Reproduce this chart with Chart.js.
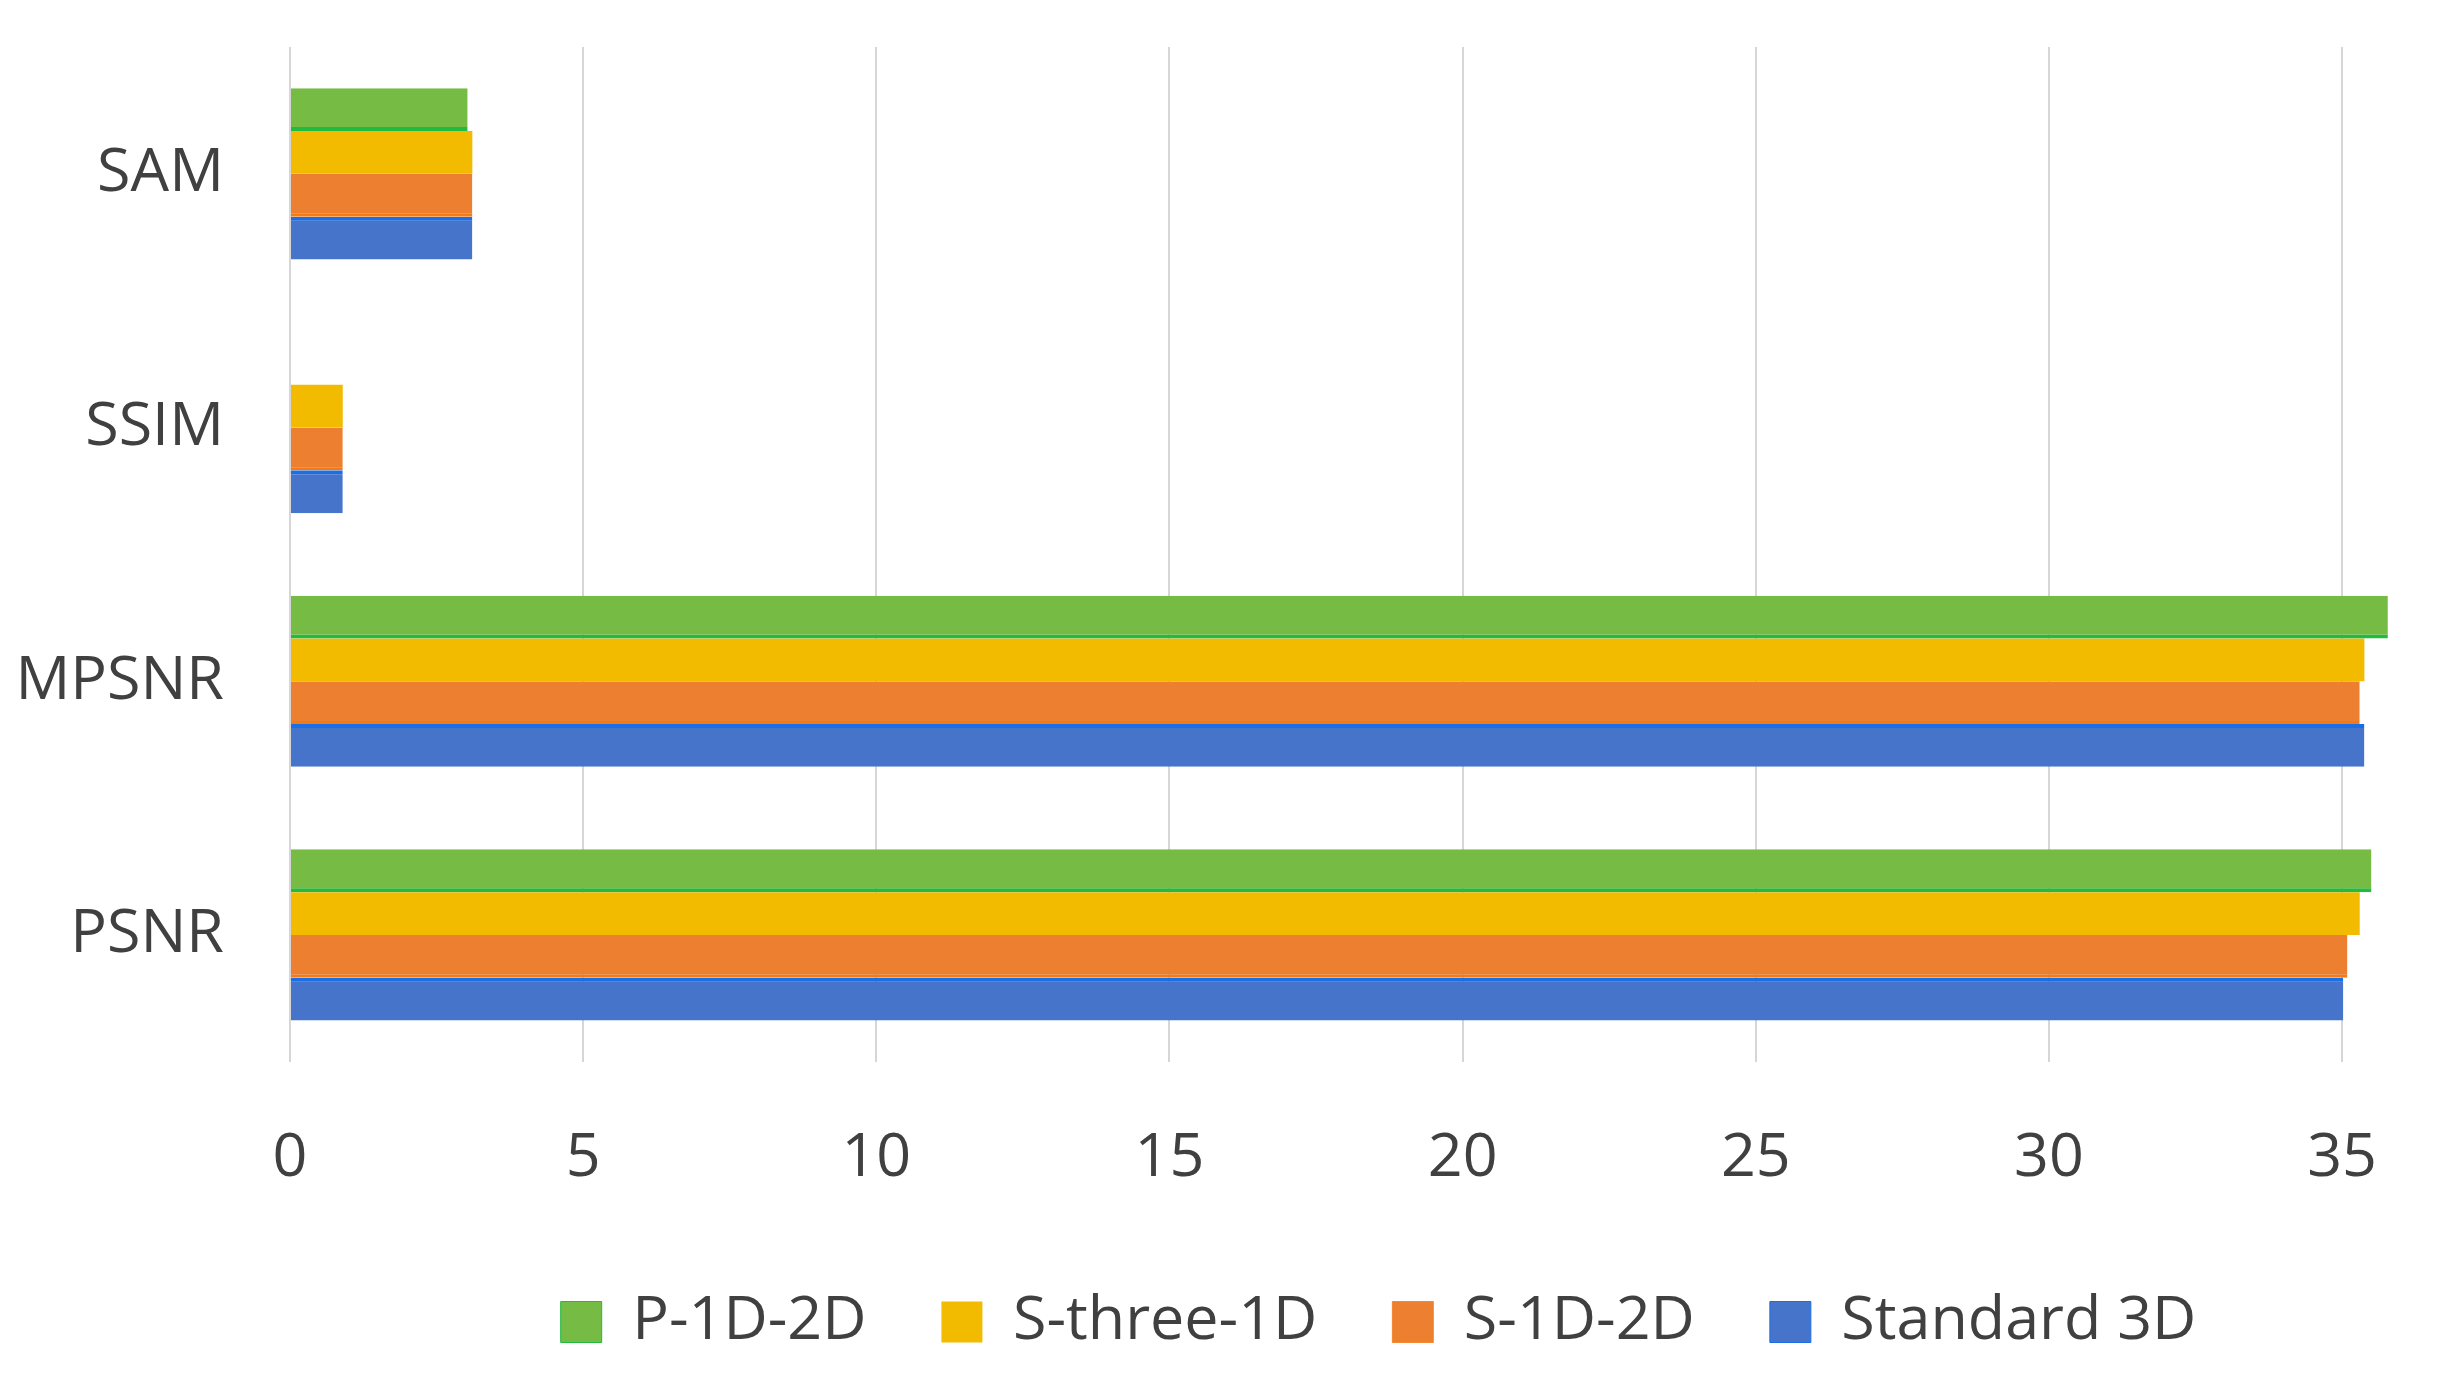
<!DOCTYPE html>
<html>
<head>
<meta charset="utf-8">
<script src="https://cdn.jsdelivr.net/npm/chart.js@4.4.1/dist/chart.umd.min.js"></script>
<style>
  html, body { margin: 0; padding: 0; background: #ffffff; }
  #wrap { width: 2437px; height: 1375px; position: relative; }
</style>
</head>
<body>
<div id="wrap"><canvas id="c"></canvas></div>
<script>
const categories = ['SAM', 'SSIM', 'MPSNR', 'PSNR'];
const seriesNames = ['P-1D-2D', 'S-three-1D', 'S-1D-2D', 'Standard 3D'];
const p1d2d      = [3.03, null, 35.78, 35.50];
const sThree1d   = [3.11, 0.90, 35.38, 35.30];
const s1d2d      = [3.11, 0.90, 35.30, 35.09];
const standard3d = [3.11, 0.90, 35.38, 35.02];
const xTicks = [0, 5, 10, 15, 20, 25, 30, 35];

const fillColors = ['#76bb43', '#f2bb00', '#ed7f31', '#4674ca'];
const edgeColors = ['#22bb40', '#f2bb00', '#f57a12', '#1a6ee6'];
const edgeWidths = [{bottom: 4}, 0, {bottom: 3}, {top: 4}];
const values = [p1d2d, sThree1d, s1d2d, standard3d];

const FONT = '"Open Sans", "Noto Sans", sans-serif';
const FS = 61;
const LEGEND_PAD = 75;

const datasets = seriesNames.map((name, i) => ({
  label: name,
  data: values[i],
  backgroundColor: fillColors[i],
  borderColor: edgeColors[i],
  borderWidth: edgeWidths[i],
  borderSkipped: false,
  categoryPercentage: 0.675,
  barPercentage: 1.0
}));

const legendPlace = {
  id: 'legendPlace',
  afterLayout(chart) {
    const lg = chart.legend;
    if (!lg) return;
    const ih = Math.max(FS, 41);
    const newTop = 1322 - LEGEND_PAD - ih / 2;
    const dy = newTop - lg.top;
    lg.top += dy; lg.bottom += dy;
    lg.left += 160; lg.right += 160;
  }
};

new Chart(document.getElementById('c'), {
  type: 'bar',
  data: { labels: categories, datasets },
  plugins: [legendPlace],
  options: {
    indexAxis: 'y',
    responsive: true,
    maintainAspectRatio: false,
    devicePixelRatio: 1,
    animation: false,
    layout: { padding: { top: 47, right: 0, left: 0, bottom: -26 } },
    plugins: {
      tooltip: { enabled: false },
      legend: {
        position: 'bottom',
        labels: {
          font: { family: FONT, size: FS },
          color: '#404040',
          boxWidth: 41,
          boxHeight: 41,
          padding: LEGEND_PAD
        }
      }
    },
    scales: {
      x: {
        min: 0,
        max: 36.48,
        afterBuildTicks: (scale) => {
          scale.ticks = xTicks.map(v => ({ value: v }));
        },
        grid: { color: '#d6d6d6', lineWidth: 2, drawTicks: false },
        border: { display: false },
        ticks: {
          font: { family: FONT, size: FS },
          color: '#404040',
          padding: 60,
          maxRotation: 0
        }
      },
      y: {
        grid: { display: false, drawTicks: false },
        border: { display: false },
        afterFit: (scale) => {
          scale.width = 290;
          scale.paddingTop = 0;
          scale.paddingBottom = 0;
        },
        ticks: {
          font: { family: FONT, size: FS },
          color: '#404040',
          padding: 66
        }
      }
    }
  }
});
</script>
</body>
</html>
